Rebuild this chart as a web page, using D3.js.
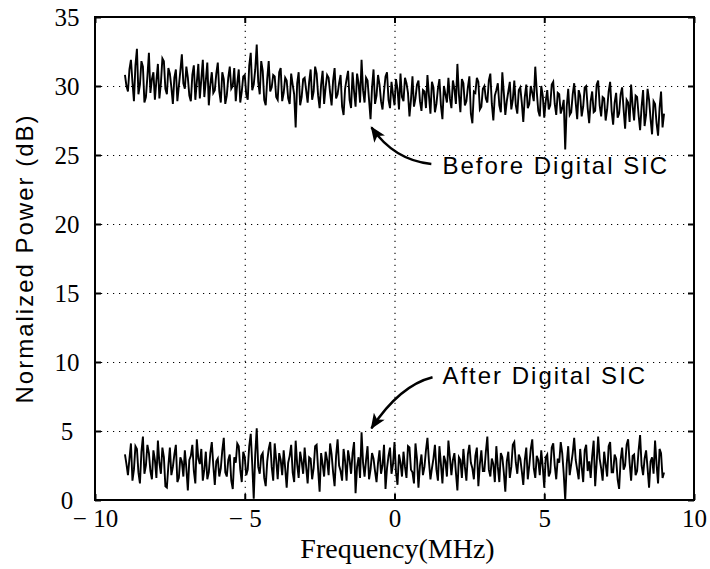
<!DOCTYPE html>
<html>
<head>
<meta charset="utf-8">
<script src="https://cdn.jsdelivr.net/npm/d3@7"></script>
<style>
  body { margin: 0; background: #fff; }
  svg { display: block; }
</style>
</head>
<body>
<div id="svg-area"></div>
<script>
// frequency span of the measured bins (MHz)
var freqSpan = [-9, 9];

// normalized power before digital SIC (dB), evenly spaced over freqSpan
var beforeSIC = [
  30.8, 30.0, 29.6, 31.2, 31.9, 30.3, 28.9, 31.5, 32.7, 29.4, 30.1, 31.8, 31.4, 28.8, 29.2, 30.7, 32.4, 29.5, 30.5, 31.0,
  29.0, 30.4, 31.6, 29.1, 30.2, 32.0, 31.8, 29.8, 29.4, 31.3, 30.9, 29.9, 28.7, 30.6, 31.2, 28.9, 30.0, 31.1, 32.3, 30.2,
  29.8, 31.4, 30.6, 29.3, 28.9, 30.8, 31.5, 29.0, 30.3, 31.6, 29.1, 30.5, 31.9, 29.2, 30.4, 31.7, 28.6, 30.1, 31.0, 29.5,
  29.7, 30.9, 31.7, 29.6, 28.8, 31.0, 30.5, 28.7, 29.3, 30.6, 31.4, 29.8, 30.0, 31.3, 28.9, 30.2, 31.2, 28.8, 29.6, 30.7,
  30.8, 29.4, 29.0, 31.5, 32.4, 29.7, 30.1, 31.2, 33.0, 30.3, 29.4, 31.8, 31.1, 29.0, 28.6, 30.5, 31.8, 29.6, 29.9, 30.8,
  30.7, 29.2, 29.0, 31.0, 31.3, 28.9, 29.5, 30.6, 30.4, 29.1, 28.7, 30.9, 30.1, 29.4, 27.0, 30.2, 31.0, 28.6, 29.2, 30.5,
  30.6, 29.7, 28.8, 30.3, 31.2, 29.0, 29.6, 31.4, 30.9, 29.3, 28.4, 30.1, 31.1, 28.7, 29.9, 30.8, 30.6, 29.5, 28.6, 30.4,
  31.3, 29.1, 29.4, 30.2, 30.8, 28.5, 27.9, 29.8, 30.5, 31.1, 29.0, 28.4, 31.0, 29.6, 28.5, 30.9, 30.2, 28.8, 31.9, 29.7,
  28.8, 30.6, 30.4, 29.0, 27.6, 29.9, 31.2, 28.7, 29.3, 30.8, 30.1, 28.9, 28.3, 29.6, 30.7, 31.0, 29.0, 28.4, 30.3, 29.4,
  28.6, 30.5, 29.8, 28.3, 30.9, 29.2, 28.9, 30.6, 30.2, 29.5, 27.8, 29.0, 30.7, 28.5, 29.1, 30.1, 30.4, 28.9, 28.2, 29.7,
  29.6, 28.4, 30.8, 29.3, 28.0, 30.3, 29.9, 28.1, 28.7, 29.8, 30.5, 28.6, 27.6, 30.0, 29.4, 28.8, 30.6, 29.1, 28.4, 30.4,
  29.8, 28.7, 31.6, 29.4, 28.1, 30.5, 30.2, 28.6, 28.9, 29.9, 30.7, 28.0, 27.3, 29.6, 29.5, 30.6, 30.3, 28.3, 28.5, 29.8,
  30.0, 29.1, 28.8, 30.4, 30.9, 28.7, 27.5, 29.3, 29.7, 30.2, 28.6, 28.1, 31.0, 29.5, 27.9, 28.9, 29.6, 30.3, 28.3, 29.0,
  30.4, 28.6, 28.0, 29.7, 29.9, 28.8, 27.4, 29.2, 30.1, 28.4, 28.7, 30.0, 29.5, 28.9, 31.4, 29.6, 28.2, 27.8, 30.0, 29.3,
  27.7, 28.9, 29.7, 28.3, 28.6, 30.1, 30.3, 28.7, 27.9, 29.5, 29.4, 28.0, 28.4, 29.0, 25.4, 28.5, 29.8, 27.9, 28.1, 29.4,
  30.2, 28.8, 27.6, 29.7, 29.3, 27.8, 28.5, 29.9, 30.0, 28.4, 27.3, 28.9, 29.6, 28.1, 28.2, 30.1, 30.4, 28.6, 27.8, 29.2,
  29.1, 27.5, 28.3, 29.6, 30.3, 28.2, 27.2, 28.8, 29.5, 27.7, 28.0, 29.4, 29.9, 28.3, 26.9, 29.0, 28.8, 27.4, 30.1, 28.6,
  27.5, 29.3, 29.2, 27.9, 26.8, 28.5, 29.7, 27.1, 27.9, 29.8, 29.0, 27.6, 26.5, 28.9, 28.7, 27.3, 26.4, 28.4, 29.6, 27.0,
  28.0
];

// normalized power after digital SIC (dB)
var afterSIC = [
  3.3, 2.6, 1.8, 3.0, 4.1, 1.4, 2.2, 3.9, 3.7, 2.0, 1.2, 3.5, 4.6, 1.9, 2.5, 4.0, 3.4, 2.1, 1.5, 3.6,
  2.9, 1.6, 4.3, 2.7, 1.9, 3.8, 3.1, 1.0, 0.9, 2.5, 3.8, 1.8, 2.4, 3.3, 4.0, 1.3, 1.6, 3.1, 2.8, 1.7,
  3.6, 2.3, 0.7, 2.9, 3.2, 4.0, 2.1, 1.2, 4.4, 3.0, 2.6, 3.7, 1.4, 2.2, 3.5, 1.5, 2.0, 3.4, 4.2, 2.5,
  1.1, 2.8, 3.0, 1.7, 2.3, 3.6, 4.5, 2.0, 1.7, 2.9, 3.3, 1.4, 0.8, 3.1, 2.7, 4.1, 3.9, 2.2, 1.3, 3.5,
  3.1, 1.8, 2.2, 3.9, 4.8, 2.6, 0.1, 3.3, 5.2, 2.4, 1.9, 3.2, 3.4, 1.6, 1.0, 2.8, 3.7, 4.2, 2.4, 1.4,
  4.1, 2.9, 1.5, 3.4, 2.9, 1.8, 3.6, 2.3, 0.9, 2.7, 3.2, 4.0, 2.0, 1.3, 4.3, 2.6, 1.6, 3.5, 2.8, 1.9,
  3.8, 2.4, 1.2, 3.1, 3.0, 1.5, 2.3, 3.9, 4.0, 2.2, 0.6, 3.4, 2.6, 1.7, 3.5, 2.9, 1.8, 4.1, 3.3, 2.0,
  1.0, 3.2, 4.4, 2.5, 2.1, 1.4, 3.7, 2.8, 1.4, 3.6, 2.9, 1.9, 3.4, 4.2, 0.5, 2.4, 3.1, 1.6, 4.9, 2.7,
  1.7, 2.9, 3.9, 1.5, 2.2, 3.4, 3.0, 2.1, 1.3, 2.7, 3.6, 1.9, 2.5, 4.0, 0.8, 2.3, 3.2, 3.8, 1.9, 2.6,
  4.2, 2.0, 1.1, 3.3, 2.7, 1.7, 3.5, 2.4, 1.6, 3.9, 3.8, 2.2, 2.0, 1.2, 4.1, 3.0, 0.9, 2.5, 3.3, 1.8,
  2.4, 3.6, 4.5, 2.8, 1.5, 2.3, 3.0, 4.0, 2.2, 1.4, 3.9, 2.6, 1.2, 3.2, 2.8, 1.7, 4.3, 3.1, 1.8, 2.9,
  3.4, 2.0, 0.7, 3.1, 2.9, 1.6, 3.7, 2.4, 1.4, 3.3, 4.0, 2.7, 2.3, 1.5, 3.2, 3.8, 1.0, 2.6, 3.6, 2.1,
  2.1, 3.5, 4.6, 2.2, 1.7, 3.0, 2.6, 1.3, 3.9, 2.4, 1.3, 3.4, 3.1, 2.0, 0.6, 2.8, 3.5, 1.6, 2.4, 4.0,
  4.2, 2.7, 1.9, 3.3, 3.0, 2.1, 1.1, 2.9, 3.8, 1.5, 2.5, 3.7, 4.4, 2.3, 1.6, 3.2, 2.9, 1.8, 3.6, 2.4,
  0.9, 3.1, 3.3, 1.7, 2.0, 3.8, 4.1, 2.5, 1.5, 3.0, 2.7, 4.2, 3.4, 1.9, 0.0, 2.6, 3.9, 1.8, 2.6, 3.4,
  4.5, 2.9, 2.2, 1.5, 3.7, 2.4, 1.3, 3.6, 4.0, 2.1, 2.8, 1.6, 3.2, 4.3, 1.0, 2.7, 4.6, 3.0, 2.3, 1.4,
  3.5, 2.6, 1.7, 3.9, 4.2, 2.0, 2.0, 3.3, 3.0, 1.5, 0.8, 2.9, 3.8, 2.2, 2.5, 4.0, 4.4, 2.7, 1.4, 3.2,
  3.3, 1.8, 2.1, 3.6, 4.7, 2.5, 1.8, 3.0, 3.6, 2.3, 0.9, 2.8, 3.1, 1.9, 4.3, 2.6, 1.2, 3.7, 3.4, 1.6,
  2.0
];

var xTicks = [-10, -5, 0, 5, 10];
var yTicks = [0, 5, 10, 15, 20, 25, 30, 35];
var xGrid = [-5, 0, 5];
var yGrid = [5, 10, 15, 20, 25, 30];

// annotation anchors in data units: text start, arrow start, control, tip
var notes = [
  { label: "Before Digital SIC", text: [1.6, 23.6], from: [1.23, 24.35], ctrl: [0.0, 24.6], to: [-0.77, 27.0] },
  { label: "After Digital SIC",  text: [1.6, 8.4],  from: [1.27, 8.9],   ctrl: [0.17, 8.3], to: [-0.77, 5.2] }
];

var svgWidth = 710;
var svgHeight = 569;

var margin = { top: 17, right: 16, bottom: 69, left: 95 };
var width = svgWidth - margin.left - margin.right;
var height = svgHeight - margin.top - margin.bottom;

var svg = d3.select("#svg-area")
  .append("svg")
  .attr("width", svgWidth)
  .attr("height", svgHeight);

var defs = svg.append("defs");
defs.append("marker")
  .attr("id", "head")
  .attr("viewBox", "0 0 12 10")
  .attr("refX", 11)
  .attr("refY", 5)
  .attr("markerUnits", "userSpaceOnUse")
  .attr("markerWidth", 16)
  .attr("markerHeight", 13)
  .attr("orient", "auto")
  .append("path")
  .attr("d", "M0,0 L12,5 L0,10 L3,5 z")
  .attr("fill", "#000");

var chartGroup = svg.append("g")
  .attr("transform", `translate(${margin.left}, ${margin.top})`);

// scales
var x = d3.scaleLinear().domain([-10, 10]).range([0, width]);
var y = d3.scaleLinear().domain([0, 35]).range([height, 0]);

// sample index -> frequency
var idxBefore = d3.scaleLinear().domain([0, beforeSIC.length - 1]).range(freqSpan);
var idxAfter = d3.scaleLinear().domain([0, afterSIC.length - 1]).range(freqSpan);

// dotted grid
var gx = chartGroup.append("g")
  .attr("transform", `translate(0, ${height})`)
  .call(d3.axisBottom(x).tickValues(xGrid).tickSize(-height).tickFormat(""));
var gy = chartGroup.append("g")
  .call(d3.axisLeft(y).tickValues(yGrid).tickSize(-width).tickFormat(""));
[gx, gy].forEach(function(g) {
  g.select(".domain").remove();
  g.selectAll("line")
    .attr("stroke", "#000")
    .attr("stroke-width", 1.1)
    .attr("stroke-dasharray", "1.2,4.8");
});

// traces
var line = d3.line()
  .x(d => x(d[0]))
  .y(d => y(d[1]));

chartGroup.append("path")
  .datum(beforeSIC.map((v, i) => [idxBefore(i), v]))
  .attr("d", line)
  .attr("fill", "none")
  .attr("stroke", "#000")
  .attr("stroke-width", 1.9);

chartGroup.append("path")
  .datum(afterSIC.map((v, i) => [idxAfter(i), v]))
  .attr("d", line)
  .attr("fill", "none")
  .attr("stroke", "#000")
  .attr("stroke-width", 1.9);

// axes with inward ticks
var fmt = d => d < 0 ? "\u2212 " + Math.abs(d) : String(d);

var bottomAxis = chartGroup.append("g")
  .attr("transform", `translate(0, ${height})`)
  .call(d3.axisBottom(x).tickValues(xTicks).tickSizeInner(-6).tickSizeOuter(0).tickPadding(9).tickFormat(fmt));

var leftAxis = chartGroup.append("g")
  .call(d3.axisLeft(y).tickValues(yTicks).tickSizeInner(-6).tickSizeOuter(0).tickFormat(d => d));
leftAxis.selectAll("text")
  .attr("text-anchor", "middle")
  .attr("x", -28);

chartGroup.append("g")
  .call(d3.axisTop(x).tickValues(xTicks).tickSizeInner(-6).tickSizeOuter(0).tickFormat(""));
chartGroup.append("g")
  .attr("transform", `translate(${width}, 0)`)
  .call(d3.axisRight(y).tickValues(yTicks).tickSizeInner(-6).tickSizeOuter(0).tickFormat(""));

chartGroup.selectAll(".tick line")
  .filter(function() { return d3.select(this).attr("stroke-dasharray") == null; })
  .attr("stroke-width", 2);
chartGroup.selectAll(".domain").remove();

[bottomAxis, leftAxis].forEach(function(g) {
  g.attr("font-family", "'Liberation Serif', 'Times New Roman', serif")
    .attr("font-size", 25);
  g.selectAll("text").attr("fill", "#000");
});

// frame
chartGroup.append("rect")
  .attr("width", width)
  .attr("height", height)
  .attr("fill", "none")
  .attr("stroke", "#000")
  .attr("stroke-width", 2);

// annotations
notes.forEach(function(n) {
  chartGroup.append("path")
    .attr("d", `M${x(n.from[0])},${y(n.from[1])} Q${x(n.ctrl[0])},${y(n.ctrl[1])} ${x(n.to[0])},${y(n.to[1])}`)
    .attr("fill", "none")
    .attr("stroke", "#000")
    .attr("stroke-width", 2.5)
    .attr("marker-end", "url(#head)");

  chartGroup.append("text")
    .attr("x", x(n.text[0]))
    .attr("y", y(n.text[1]))
    .attr("font-family", "'Liberation Sans', Arial, sans-serif")
    .attr("font-size", 24)
    .attr("letter-spacing", 2)
    .text(n.label);
});

// axis labels
chartGroup.append("text")
  .attr("transform", `translate(${-71}, ${height / 2}) rotate(-90)`)
  .attr("text-anchor", "middle")
  .attr("dominant-baseline", "central")
  .attr("font-family", "'Liberation Sans', Arial, sans-serif")
  .attr("font-size", 24)
  .attr("letter-spacing", 2)
  .text("Normalized Power (dB)");

chartGroup.append("text")
  .attr("x", width / 2 + 3)
  .attr("y", height + 58)
  .attr("text-anchor", "middle")
  .attr("font-family", "'Liberation Serif', 'Times New Roman', serif")
  .attr("font-size", 28)
  .text("Frequency(MHz)");
</script>
</body>
</html>
